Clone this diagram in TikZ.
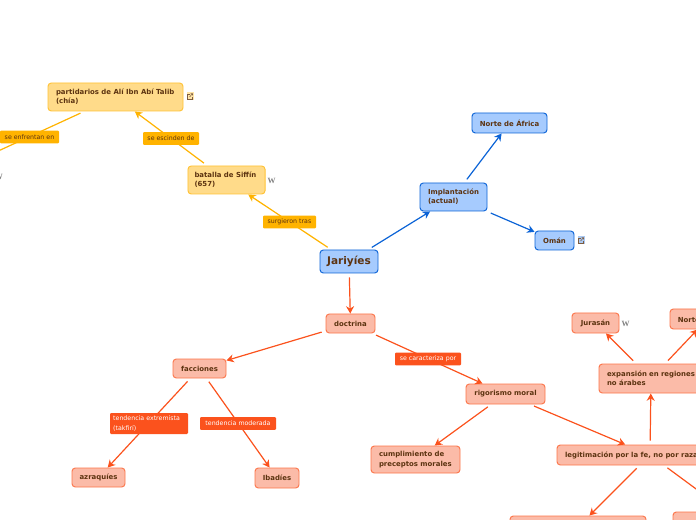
\documentclass[tikz,border=0pt]{standalone}
\usepackage{fontspec}
\setmainfont{DejaVu Sans}
\newfontfamily\iconfont{Liberation Serif}
\usetikzlibrary{arrows.meta, positioning}
\definecolor{mapbrown}{RGB}{92, 51, 16}
\definecolor{mapblue}{RGB}{11, 99, 214}
\definecolor{mapbluefill}{RGB}{166, 203, 254}
\definecolor{maporange}{RGB}{255, 179, 0}
\definecolor{maporangeedge}{RGB}{255, 194, 51}
\definecolor{maporangefill}{RGB}{255, 219, 138}
\definecolor{mapred}{RGB}{251, 82, 29}
\definecolor{mapredfill}{RGB}{251, 187, 168}
\definecolor{mapgray}{RGB}{128, 128, 128}
\tikzstyle{topic} = [rectangle, rounded corners=2.5pt, inner xsep=6pt, inner ysep=0pt, line width=0.7pt,
                     font=\fontsize{5.2}{6.9}\selectfont\bfseries, text=mapbrown, align=flush left]
\tikzstyle{bluetopic} = [topic, draw=mapblue, fill=mapbluefill]
\tikzstyle{yellowtopic} = [topic, draw=maporangeedge, fill=maporangefill]
\tikzstyle{redtopic} = [topic, draw=mapred!80, fill=mapredfill]
\tikzstyle{relation} = [rectangle, rounded corners=0.8pt, inner xsep=2.4pt, inner ysep=0pt,
                        font=\fontsize{4.7}{6.9}\selectfont, align=flush left]
\tikzstyle{yellowrelation} = [relation, fill=maporange, text=mapbrown]
\tikzstyle{redrelation} = [relation, fill=mapred, text=white]
\tikzstyle{bluearrow} = [-{Stealth[length=5.5pt, width=6pt]}, line width=0.9pt, mapblue, shorten <=3pt]
\tikzstyle{yellowarrow} = [-{Stealth[length=5.5pt, width=6pt]}, line width=0.9pt, maporange, shorten <=3pt]
\tikzstyle{redarrow} = [-{Stealth[length=5.5pt, width=6pt]}, line width=0.9pt, mapred, shorten <=3pt]
\tikzstyle{wikimark} = [font=\iconfont\fontsize{6}{6}\selectfont\bfseries, text=mapgray, inner sep=0pt]
\tikzset{
  linkmark/.pic={
    \fill[#1!35] (-3,-4) rectangle (4,4);
    \draw[mapbrown!80, line width=0.4pt] (0.5,-2) -- (-2,-2) -- (-2,3) -- (3,3) -- (3,0.5);
    \draw[mapbrown!80, line width=0.4pt] (0,0.5) -- (3,-2.8) (1,-2.8) -- (3,-2.8) -- (3,-1);
  }
}

\begin{document}
\begin{tikzpicture}[x=0.75pt, y=-0.75pt]
\useasboundingbox (0,0) rectangle (696,520);

% Blue branch
\node[bluetopic, minimum width=43.5pt, minimum height=17.25pt, inner xsep=0pt, font=\fontsize{7.9}{8}\selectfont\bfseries] (jariyies) at (349,261.5) {Jariyíes};
\node[bluetopic, text width=38.25pt, minimum height=21pt] (implantacion) at (453.5,197) {Implantación\\(actual)};
\node[bluetopic, minimum width=56.25pt, minimum height=15pt, inner xsep=0pt, align=center] (nortea) at (509.5,123) {Norte de África};
\node[bluetopic, minimum width=29.25pt, minimum height=14.25pt, inner xsep=0pt, align=center] (oman) at (554.5,240.5) {Omán};

% Yellow branch
\node[yellowtopic, text width=48pt, inner xsep=4.9pt, minimum height=21pt] (batalla) at (226.5,180) {batalla de Siffín\\(657)};
\node[yellowtopic, text width=89.25pt, minimum height=21pt] (partidarios) at (115.5,97) {partidarios de Alí Ibn Abí Talib\\(chía)};
\coordinate (enfrentados) at (-30,164);

% Red branch
\node[redtopic, minimum width=36.75pt, minimum height=14.25pt, inner xsep=0pt, align=center] (doctrina) at (350.5,323.5) {doctrina};
\node[redtopic, minimum width=39.75pt, minimum height=14.25pt, inner xsep=0pt, align=center] (facciones) at (199.5,368.5) {facciones};
\node[redtopic, minimum width=39.75pt, minimum height=14.25pt, inner xsep=0pt, align=center] (azraquies) at (98.5,477.5) {azraquíes};
\node[redtopic, minimum width=33pt, minimum height=15pt, inner xsep=0pt, align=center] (ibadies) at (277,478) {Ibadíes};
\node[redtopic, minimum width=59.25pt, minimum height=15pt, inner xsep=0pt, align=center] (rigorismo) at (505.5,394) {rigorismo moral};
\node[redtopic, text width=54.75pt, minimum height=20.25pt] (cumplimiento) at (415.5,459.5) {cumplimiento de\\preceptos morales};
\node[redtopic, text width=127.5pt, minimum height=15pt] (legitimacion) at (650,455) {legitimación por la fe, no por raza};
\node[redtopic, text width=66pt, minimum height=21.75pt] (expansion) at (651,378.5) {expansión en regiones\\no árabes};
\node[redtopic, minimum width=35.25pt, minimum height=15pt, inner xsep=0pt, align=center] (jurasan) at (595.5,323) {Jurasán};
\node[redtopic, minimum width=56.25pt, minimum height=15pt, inner xsep=0pt, align=center] (norteb) at (707.5,319) {Norte de África};
\node[redtopic, minimum width=102pt, minimum height=16.5pt] (abajoa) at (578,527) {};
\node[redtopic, minimum width=108pt, minimum height=19.5pt] (abajob) at (745,525) {};

% Arrows
\draw[bluearrow] (jariyies) -- (implantacion);
\draw[bluearrow] (implantacion) -- (nortea);
\draw[bluearrow] (implantacion) -- (oman);
\draw[yellowarrow] (jariyies) -- (batalla);
\draw[yellowarrow] (batalla) -- (partidarios);
\draw[yellowarrow] (partidarios) -- (enfrentados);
\draw[redarrow] (jariyies) -- (doctrina);
\draw[redarrow] (doctrina) -- (facciones);
\draw[redarrow] (doctrina) -- (rigorismo);
\draw[redarrow] (facciones) -- (azraquies);
\draw[redarrow] (facciones) -- (ibadies);
\draw[redarrow] (rigorismo) -- (cumplimiento);
\draw[redarrow] (rigorismo) -- (legitimacion);
\draw[redarrow] (legitimacion) -- (expansion);
\draw[redarrow] (legitimacion) -- (abajoa);
\draw[redarrow] (legitimacion) -- (abajob);
\draw[redarrow] (expansion) -- (jurasan);
\draw[redarrow] (expansion) -- (norteb);

% Relations
\node[yellowrelation, minimum width=44.25pt, minimum height=9.5pt, align=center] (enfrentan) at (29.5,137) {se enfrentan en};
\node[yellowrelation, minimum width=42pt, minimum height=9.5pt, align=center] (escinden) at (171,138.5) {se escinden de};
\node[yellowrelation, minimum width=39.75pt, minimum height=9.5pt, align=center] (surgieron) at (289.5,222) {surgieron tras};
\node[redrelation, minimum width=49.5pt, minimum height=9.5pt, align=center] (caracteriza) at (428,359) {se caracteriza por};
\node[redrelation, text width=53.7pt, minimum height=15.75pt] (extremista) at (149,423.5) {tendencia extremista\\(takfirí)};
\node[redrelation, minimum width=57pt, minimum height=9.5pt, align=center] (moderada) at (238,423.5) {tendencia moderada};

% Marks
\node[wikimark] (wikibatalla) at (271.5,180.5) {W};
\node[wikimark] (wikijurasan) at (625.5,323.5) {W};
\node[wikimark] (wikienfrentan) at (-1,177) {W};
\pic at (189.5,96.5) {linkmark=maporange};
\pic at (580.5,240.5) {linkmark=mapblue};

\end{tikzpicture}
\end{document}
